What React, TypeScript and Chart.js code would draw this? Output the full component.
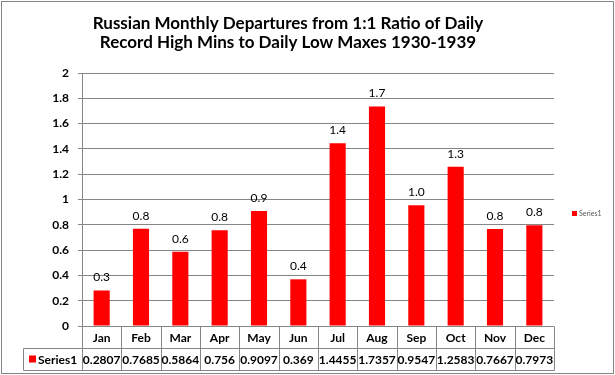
import React, { useEffect, useRef } from 'react';
import { Chart, registerables } from 'chart.js';

Chart.register(...registerables);

const categories = ['Jan', 'Feb', 'Mar', 'Apr', 'May', 'Jun', 'Jul', 'Aug', 'Sep', 'Oct', 'Nov', 'Dec'];
const values = [0.2807, 0.7685, 0.5864, 0.756, 0.9097, 0.369, 1.4455, 1.7357, 0.9547, 1.2583, 0.7667, 0.7973];
const seriesName = 'Series1';
const titleLines = [
  'Russian Monthly Departures from 1:1 Ratio of Daily',
  'Record High Mins to Daily Low Maxes 1930-1939',
];
const yMin = 0;
const yMax = 2;
const yStep = 0.2;

const FONT = 'Lato, "Open Sans", sans-serif';
const GRID = '#868686';
const RED = '#ff0000';

const framePlugin = {
  id: 'frame',
  beforeDraw(chart: any) {
    const ctx = chart.ctx;
    ctx.save();
    ctx.fillStyle = '#ffffff';
    ctx.fillRect(0, 0, chart.width, chart.height);
    ctx.strokeStyle = GRID;
    ctx.lineWidth = 1;
    ctx.strokeRect(1.5, 1.5, chart.width - 3, chart.height - 3);
    ctx.restore();
  },
};

const labelPlugin = {
  id: 'barLabels',
  afterDatasetsDraw(chart: any) {
    const ctx = chart.ctx;
    const meta = chart.getDatasetMeta(0);
    ctx.save();
    ctx.font = `12px ${FONT}`;
    ctx.fillStyle = '#000000';
    ctx.textAlign = 'center';
    ctx.textBaseline = 'middle';
    meta.data.forEach((bar: any, i: number) => {
      const v = chart.data.datasets[0].data[i] as number;
      ctx.fillText(v.toFixed(1), bar.x, bar.y - 13);
    });
    ctx.restore();
  },
};

const tablePlugin = {
  id: 'dataTable',
  afterDraw(chart: any) {
    const ctx = chart.ctx;
    const area = chart.chartArea;
    const n = categories.length;
    const cw = (area.right - area.left) / n;
    const top = Math.round(area.bottom) + 0.5;
    const mid = top + 22;
    const bot = mid + 22;
    const leftCol = 23.5;
    ctx.save();
    ctx.strokeStyle = GRID;
    ctx.lineWidth = 1;
    ctx.beginPath();
    ctx.moveTo(leftCol, mid);
    ctx.lineTo(area.right + 0.5, mid);
    ctx.moveTo(leftCol, bot);
    ctx.lineTo(area.right + 0.5, bot);
    ctx.moveTo(leftCol, mid);
    ctx.lineTo(leftCol, bot);
    for (let i = 0; i <= n; i++) {
      const x = Math.round(area.left + i * cw) + 0.5;
      ctx.moveTo(x, top);
      ctx.lineTo(x, bot);
    }
    ctx.stroke();

    ctx.fillStyle = '#000000';
    ctx.font = `bold 12px ${FONT}`;
    ctx.textAlign = 'center';
    ctx.textBaseline = 'middle';
    const xs = chart.scales.x;
    categories.forEach((c, i) => {
      const x = xs.getPixelForValue(i);
      ctx.fillText(c, x, (top + mid) / 2 + 1);
      ctx.fillText(String(values[i]), x, (mid + bot) / 2 + 1);
    });
    ctx.fillStyle = RED;
    ctx.fillRect(29, mid + 7, 7, 7);
    ctx.fillStyle = '#000000';
    ctx.textAlign = 'left';
    ctx.fillText(seriesName, 38, (mid + bot) / 2 + 1);

    // right legend
    ctx.fillStyle = RED;
    ctx.fillRect(572, 211, 5, 5);
    ctx.fillStyle = '#595959';
    ctx.font = `7px ${FONT}`;
    ctx.textAlign = 'left';
    ctx.fillText(seriesName, 579, 214);
    ctx.restore();
  },
};

export default function App() {
  const ref = useRef<HTMLCanvasElement>(null);
  useEffect(() => {
    if (!ref.current) return;
    const chart = new Chart(ref.current, {
      type: 'bar',
      data: {
        labels: categories,
        datasets: [
          {
            label: seriesName,
            data: values,
            backgroundColor: RED,
            barPercentage: 0.41,
            categoryPercentage: 1,
          },
        ],
      },
      options: {
        responsive: false,
        animation: false,
        layout: { padding: { left: 22, right: 61, top: 0, bottom: 49 } },
        plugins: {
          legend: { display: false },
          tooltip: { enabled: false },
          title: {
            display: true,
            text: titleLines,
            color: '#000000',
            font: { family: FONT, size: 17, weight: 'bold', lineHeight: 1.15 },
            padding: { top: 13.5, bottom: 20.4 },
          },
        },
        scales: {
          x: { display: false },
          y: {
            min: yMin,
            max: yMax,
            afterFit(scale: any) {
              scale.width = 60;
            },
            ticks: {
              stepSize: yStep,
              color: '#000000',
              padding: 9,
              font: { family: FONT, size: 12, weight: 'bold' },
              callback: (v: any) => String(Math.round(Number(v) * 10) / 10),
            },
            grid: { color: GRID, tickLength: 4, drawTicks: true },
            border: { display: true, color: GRID },
          },
        },
      },
      plugins: [framePlugin, labelPlugin, tablePlugin],
    });
    return () => chart.destroy();
  }, []);
  return (
    <div style={{ position: 'absolute', left: 0, top: 0, width: 615, height: 375 }}>
      <canvas ref={ref} width={615} height={375} />
    </div>
  );
}
